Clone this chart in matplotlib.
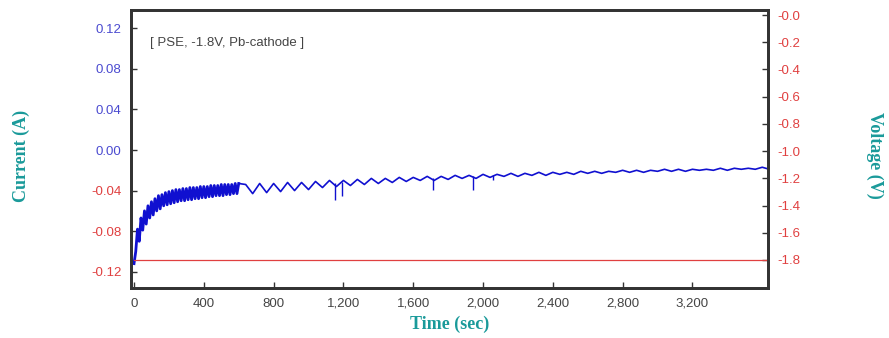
import numpy as np
import matplotlib
matplotlib.use("Agg")
import matplotlib.pyplot as plt
from matplotlib.ticker import FixedLocator, FixedFormatter

# ---- data ----
time_early = np.arange(0, 601, 10)          # sec
current_early = [
    -0.112, -0.100, -0.078, -0.090, -0.067, -0.079, -0.060, -0.073, -0.055, -0.067,
    -0.051, -0.064, -0.048, -0.060, -0.045, -0.058, -0.044, -0.055, -0.042, -0.054,
    -0.041, -0.053, -0.040, -0.052, -0.039, -0.051, -0.039, -0.050, -0.038, -0.050,
    -0.038, -0.049, -0.037, -0.049, -0.037, -0.048, -0.037, -0.048, -0.036, -0.047,
    -0.036, -0.047, -0.036, -0.046, -0.035, -0.046, -0.035, -0.045, -0.035, -0.045,
    -0.034, -0.045, -0.034, -0.044, -0.034, -0.044, -0.034, -0.043, -0.033, -0.043,
    -0.033,
]
time_late = np.arange(640, 3641, 40)        # sec
current_late = [
    -0.034, -0.043, -0.033, -0.042, -0.033, -0.041, -0.032, -0.040, -0.032, -0.039,
    -0.031, -0.037, -0.030, -0.036, -0.030, -0.035, -0.029, -0.034, -0.028, -0.033,
    -0.028, -0.032, -0.027, -0.031, -0.027, -0.030, -0.026, -0.030, -0.026, -0.029,
    -0.025, -0.028, -0.025, -0.028, -0.024, -0.027, -0.024, -0.026, -0.023, -0.026,
    -0.023, -0.025, -0.022, -0.025, -0.022, -0.024, -0.022, -0.024, -0.021, -0.023,
    -0.021, -0.023, -0.021, -0.022, -0.020, -0.022, -0.020, -0.022, -0.020, -0.021,
    -0.019, -0.021, -0.019, -0.021, -0.019, -0.020, -0.019, -0.020, -0.018, -0.020,
    -0.018, -0.019, -0.018, -0.019, -0.017, -0.019,
]
# sharp downward spikes in the current trace
spike_time = [1150, 1190, 1712, 1945, 2060]
spike_top = [-0.033, -0.032, -0.028, -0.026, -0.025]
spike_bottom = [-0.049, -0.045, -0.039, -0.039, -0.030]

voltage_time = [0, 3640]
voltage = [-1.8, -1.8]

current_ticks = [0.12, 0.08, 0.04, 0.00, -0.04, -0.08, -0.12]
current_ticklabels = ["0.12", "0.08", "0.04", "0.00", "-0.04", "-0.08", "-0.12"]
voltage_ticks = [0.0, -0.2, -0.4, -0.6, -0.8, -1.0, -1.2, -1.4, -1.6, -1.8]
voltage_ticklabels = ["-0.0", "-0.2", "-0.4", "-0.6", "-0.8", "-1.0", "-1.2",
                      "-1.4", "-1.6", "-1.8"]
time_ticks = [0, 400, 800, 1200, 1600, 2000, 2400, 2800, 3200]
time_ticklabels = ["0", "400", "800", "1,200", "1,600", "2,000", "2,400",
                   "2,800", "3,200"]
annotation = "[ PSE, -1.8V, Pb-cathode ]"

# ---- styling ----
BLUE = "#1010d0"
TICK_BLUE = "#4a4ad0"
RED = "#e04040"
TEAL = "#1a9a9a"
SPINE = "#333333"
plt.rcParams["font.family"] = ["Liberation Sans", "DejaVu Sans"]

fig = plt.figure(figsize=(8.89, 3.38), dpi=100)
ax = fig.add_axes([0.1474, 0.148, 0.7165, 0.8224])
ax2 = ax.twinx()

ax.plot(time_early, current_early, color=BLUE, lw=2.0)
ax.plot(np.concatenate([time_early[-1:], time_late]),
        np.concatenate([current_early[-1:], current_late]), color=BLUE, lw=1.2)
ax.vlines(spike_time, spike_bottom, spike_top, color=BLUE, lw=1.0)
ax2.plot(voltage_time, voltage, color=RED, lw=0.9)

ax.set_xlim(-17, 3633)
ax.set_ylim(-0.136, 0.138)
ax2.set_ylim(-2.006, 0.037)

ax.yaxis.set_major_locator(FixedLocator(current_ticks))
ax.yaxis.set_major_formatter(FixedFormatter(current_ticklabels))
ax.xaxis.set_major_locator(FixedLocator(time_ticks))
ax.xaxis.set_major_formatter(FixedFormatter(time_ticklabels))
ax2.yaxis.set_major_locator(FixedLocator(voltage_ticks))
ax2.yaxis.set_major_formatter(FixedFormatter(voltage_ticklabels))

for a in (ax, ax2):
    for s in a.spines.values():
        s.set_linewidth(2.0)
        s.set_color(SPINE)
ax.tick_params(axis="both", direction="in", length=4, width=1, color=SPINE,
               labelsize=9.5, pad=7)
ax2.tick_params(axis="y", direction="in", length=4, width=1, color=SPINE,
                labelsize=9.5, pad=7, labelcolor=RED)
ax.tick_params(axis="x", labelcolor="#444444")
for lbl, v in zip(ax.get_yticklabels(), current_ticks):
    lbl.set_color(TICK_BLUE if v >= 0 else RED)

serif = ["Liberation Serif", "DejaVu Serif"]
ax.set_xlabel("Time (sec)", color=TEAL, fontsize=13, fontweight="bold",
              family=serif, labelpad=4)
fig.text(0.024, 0.54, "Current (A)", color=TEAL, fontsize=13, fontweight="bold",
         family=serif, rotation=90, ha="center", va="center")
fig.text(0.984, 0.54, "Voltage (V)", color=TEAL, fontsize=13, fontweight="bold",
         family=serif, rotation=270, ha="center", va="center")

ax.text(0.03, 0.88, annotation, transform=ax.transAxes, fontsize=9.5,
        color="#444444", ha="left", va="center")

fig.savefig("out.png", dpi=100)
